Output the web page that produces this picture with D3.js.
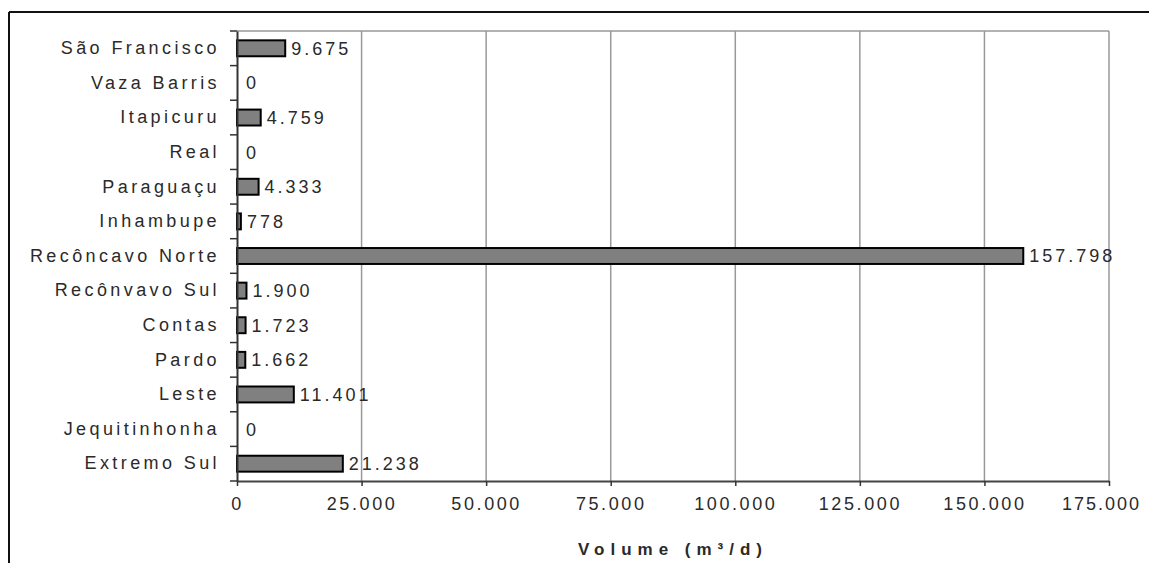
<!DOCTYPE html>
<html>
<head>
<meta charset="utf-8">
<script src="https://cdn.jsdelivr.net/npm/d3@7"></script>
<style>
  body { margin: 0; background: #fff; }
  svg text { font-family: "Liberation Sans", Arial, sans-serif; fill: #2a2a2a; }
</style>
</head>
<body>
<div id="chart"></div>
<script>
// Bacias (top to bottom) and volume values (m³/d)
const basins = ['São Francisco', 'Vaza Barris', 'Itapicuru', 'Real', 'Paraguaçu', 'Inhambupe',
  'Recôncavo Norte', 'Recônvavo Sul', 'Contas', 'Pardo', 'Leste', 'Jequitinhonha', 'Extremo Sul'];
const volumes = [9675, 0, 4759, 0, 4333, 778, 157798, 1900, 1723, 1662, 11401, 0, 21238];
const xTicks = [0, 25000, 50000, 75000, 100000, 125000, 150000, 175000];

const width = 1149;
const height = 563;
const marginTop = 31;
const marginRight = 40;
const marginBottom = 82;
const marginLeft = 237;

const fmt = d => d3.format(',')(d).replace(/,/g, '.');

const svg = d3.select('#chart')
  .append('svg')
  .attr('width', width)
  .attr('height', height);

// outer frame
svg.append('line').attr('x1', 9).attr('x2', 9).attr('y1', 12).attr('y2', height)
  .attr('stroke', '#111').attr('stroke-width', 2);
svg.append('line').attr('x1', 9).attr('x2', width).attr('y1', 12).attr('y2', 12)
  .attr('stroke', '#111').attr('stroke-width', 2);

const x = d3.scaleLinear()
  .domain([0, 175000])
  .range([marginLeft, width - marginRight]);

const y = d3.scaleBand()
  .domain(basins)
  .range([marginTop, height - marginBottom])
  .paddingInner(0.54)
  .paddingOuter(0.27);

const yStep = y.step();

// gridlines
svg.append('g')
  .selectAll('line')
  .data(xTicks.slice(1))
  .join('line')
  .attr('x1', d => x(d)).attr('x2', d => x(d))
  .attr('y1', marginTop).attr('y2', height - marginBottom)
  .attr('stroke', '#999').attr('stroke-width', 1.5);

// top border of plot area
svg.append('line')
  .attr('x1', marginLeft).attr('x2', x(175000))
  .attr('y1', marginTop).attr('y2', marginTop)
  .attr('stroke', '#999').attr('stroke-width', 1.5);

// bars
svg.append('g')
  .selectAll('rect')
  .data(basins.map((b, i) => ({ b, v: volumes[i] })))
  .join('rect')
  .attr('x', x(0))
  .attr('y', d => y(d.b))
  .attr('width', d => x(d.v) - x(0))
  .attr('height', y.bandwidth())
  .attr('fill', d => d.v > 0 ? '#808080' : 'none')
  .attr('stroke', d => d.v > 0 ? '#000' : 'none')
  .attr('stroke-width', 2);

// value labels
svg.append('g')
  .selectAll('text')
  .data(basins.map((b, i) => ({ b, v: volumes[i] })))
  .join('text')
  .attr('x', d => x(d.v) + (d.v > 0 ? 6 : 9))
  .attr('y', d => y(d.b) + y.bandwidth() / 2)
  .attr('dy', '0.36em')
  .style('font-size', '18px')
  .style('letter-spacing', '3px')
  .text(d => fmt(d.v));

// x axis
const xAxis = svg.append('g')
  .attr('transform', `translate(0,${height - marginBottom})`)
  .call(d3.axisBottom(x).tickValues(xTicks).tickSize(5).tickSizeOuter(0).tickFormat(fmt));
xAxis.select('.domain').attr('stroke', '#444').attr('stroke-width', 2);
xAxis.selectAll('.tick line').attr('stroke', '#333').attr('stroke-width', 1.5);
xAxis.selectAll('.tick text')
  .attr('y', 16)
  .style('font-size', '18px')
  .style('letter-spacing', '2.6px')
  .attr('fill', '#2a2a2a');
// keep the last label inside the window
xAxis.selectAll('.tick text')
  .filter(d => d === 175000)
  .attr('dx', -8)
  .style('letter-spacing', '2px');

// y axis
const yAxis = svg.append('g')
  .attr('transform', `translate(${marginLeft},0)`)
  .call(d3.axisLeft(y).tickSize(0).tickPadding(17));
yAxis.select('.domain').attr('stroke', '#333').attr('stroke-width', 2);
yAxis.selectAll('.tick text')
  .style('font-size', '18px')
  .style('letter-spacing', '3.4px')
  .attr('fill', '#2a2a2a');

// category separator ticks on the left
svg.append('g')
  .selectAll('line')
  .data(basins)
  .join('line')
  .attr('x1', marginLeft - 7).attr('x2', marginLeft)
  .attr('y1', d => y(d) - (yStep - y.bandwidth()) / 2)
  .attr('y2', d => y(d) - (yStep - y.bandwidth()) / 2)
  .attr('stroke', '#333').attr('stroke-width', 1.5);
svg.append('line')
  .attr('x1', marginLeft - 7).attr('x2', marginLeft)
  .attr('y1', height - marginBottom).attr('y2', height - marginBottom)
  .attr('stroke', '#333').attr('stroke-width', 1.5);

// axis title
svg.append('text')
  .attr('x', 673)
  .attr('y', 555)
  .attr('text-anchor', 'middle')
  .style('font-size', '17px')
  .style('font-weight', 'bold')
  .style('letter-spacing', '6px')
  .text('Volume (m³/d)');
</script>
</body>
</html>
